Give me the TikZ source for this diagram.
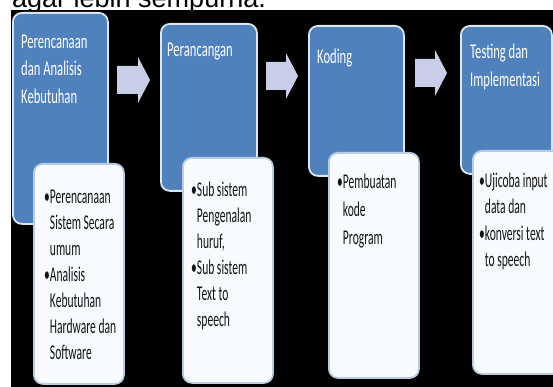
\documentclass[tikz,border=0pt]{standalone}
\usepackage{fontspec}
\setmainfont{Liberation Sans}
\newfontfamily\headfont[FakeStretch=0.60]{Carlito}
\newfontfamily\itemfont[FakeStretch=0.55]{Carlito}
\definecolor{boxblue}{HTML}{4F81BD}
\definecolor{blueedge}{HTML}{DCE6F2}
\definecolor{boxwhite}{HTML}{F8FBFE}
\definecolor{whiteedge}{HTML}{B8CCE4}
\definecolor{itemgray}{HTML}{141414}
\definecolor{arrowfill}{HTML}{C9CEE8}
\begin{document}
\begin{tikzpicture}[x=1pt,y=-1pt,
  bluebox/.style={draw=blueedge, line width=1.8pt, fill=boxblue, rounded corners=9pt, anchor=north west, inner sep=0pt},
  whitebox/.style={draw=whiteedge, line width=1.8pt, fill=boxwhite, rounded corners=9pt, anchor=north west, inner sep=0pt},
  headtext/.style={anchor=north west, inner sep=0pt, align=left, text=white, font=\headfont\fontsize{21}{27.5}\selectfont},
  itemtext/.style={anchor=north west, inner sep=0pt, align=left, text=itemgray, font=\itemfont\fontsize{21}{26}\selectfont},
  arrowshape/.style={fill=arrowfill}]
\useasboundingbox (0,0) rectangle (553,387);
\clip (0,0) rectangle (553,387);
% caption fragment at the top
\node[anchor=base west, inner sep=0pt, font=\fontsize{27}{27}\selectfont] (cap) at (12,7.5) {agar lebih sempurna.};
% black background
\fill[black] (11,10) rectangle (560,395);
% blue boxes
\node[bluebox, minimum width=95pt, minimum height=211pt] (b1) at (12,12) {};
\node[bluebox, minimum width=96pt, minimum height=167pt] (b2) at (160,23) {};
\node[bluebox, minimum width=95pt, minimum height=150pt] (b3) at (308,25) {};
\node[bluebox, minimum width=91pt, minimum height=148pt] (b4) at (460,25) {};
% headings
\node[headtext] (h1) at (21,28.75) {\strut Perencanaan\\dan Analisis\\Kebutuhan};
\node[headtext] (h2) at (167,36.75) {\strut Perancangan};
\node[headtext] (h3) at (317,43.75) {\strut Koding};
\node[headtext, font=\headfont\fontsize{21}{28}\selectfont] (h4) at (470,38.4) {\strut Testing dan\\Implementasi};
% white boxes
\node[whitebox, minimum width=90pt, minimum height=220pt] (w1) at (33,163) {};
\node[whitebox, minimum width=90pt, minimum height=225pt] (w2) at (182,157) {};
\node[whitebox, minimum width=90pt, minimum height=225pt] (w3) at (328,152) {};
\node[whitebox, minimum width=95pt, minimum height=223pt] (w4) at (472,150) {};
% item texts
\node[itemtext] (t1) at (44,184.8) {\strut •Perencanaan\\\hphantom{•}Sistem Secara\\\hphantom{•}umum\\•Analisis\\\hphantom{•}Kebutuhan\\\hphantom{•}Hardware dan\\\hphantom{•}Software};
\node[itemtext] (t2) at (191,177.8) {\strut •Sub sistem\\\hphantom{•}Pengenalan\\\hphantom{•}huruf,\\•Sub sistem\\\hphantom{•}Text to\\\hphantom{•}speech};
\node[itemtext, font=\itemfont\fontsize{21}{28}\selectfont] (t3) at (337,168.4) {\strut •Pembuatan\\\hphantom{•}kode\\\hphantom{•}Program};
\node[itemtext, font=\itemfont\fontsize{21}{26.5}\selectfont] (t4) at (479,168.45) {\strut •Ujicoba input\\\hphantom{•}data dan\\•konversi text\\\hphantom{•}to speech};
% block arrows
\fill[arrowshape] (117,66) -- (138,66) -- (138,57) -- (150,80) -- (138,103) -- (138,94) -- (117,94) -- cycle;
\fill[arrowshape] (266,62) -- (286,62) -- (286,53) -- (298,76) -- (286,99) -- (286,90) -- (266,90) -- cycle;
\fill[arrowshape] (415,59) -- (435,59) -- (435,50) -- (447,73) -- (435,96) -- (435,87) -- (415,87) -- cycle;
\end{tikzpicture}
\end{document}
